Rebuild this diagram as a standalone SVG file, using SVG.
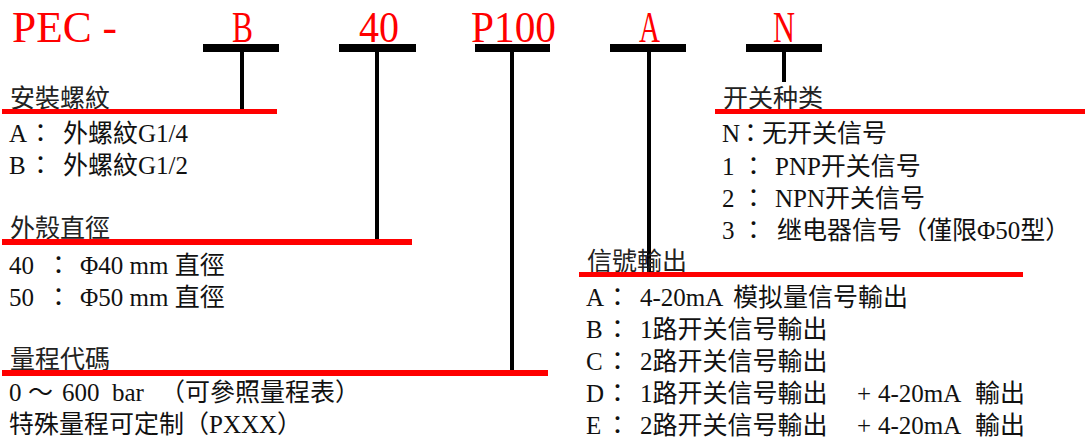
<svg xmlns="http://www.w3.org/2000/svg" width="1085" height="441" viewBox="0 0 1085 441">
<style>
.code{font-family:"Liberation Serif","Noto Sans CJK TC",serif;font-size:44px;fill:#ff0000}
.bar{fill:#000}
.red{fill:#ff0000}
.t{font-family:"Liberation Serif","Noto Sans CJK TC",serif;font-size:25px;fill:#111}
.h{font-family:"Noto Sans CJK TC","Liberation Serif",sans-serif;font-size:25px;fill:#222}
.conn{stroke:#000;stroke-width:4;fill:none}
</style>
<rect width="1085" height="441" fill="#fff"/>
<g id="code-PEC"><text class="code" x="12" y="42" textLength="105" lengthAdjust="spacingAndGlyphs">PEC -</text></g>
<g id="code-B"><text class="code" x="232" y="42" textLength="21" lengthAdjust="spacingAndGlyphs">B</text><rect class="bar" x="203" y="44" width="76" height="8"/></g>
<g id="code-40"><text class="code" x="359" y="42" textLength="40" lengthAdjust="spacingAndGlyphs">40</text><rect class="bar" x="339" y="44" width="77" height="8"/></g>
<g id="code-P100"><text class="code" x="471" y="42" textLength="85" lengthAdjust="spacingAndGlyphs">P100</text><rect class="bar" x="475" y="44" width="75" height="8"/></g>
<g id="code-A"><text class="code" x="639" y="42" textLength="21" lengthAdjust="spacingAndGlyphs">A</text><rect class="bar" x="610" y="44" width="76" height="8"/></g>
<g id="code-N"><text class="code" x="773" y="42" textLength="22" lengthAdjust="spacingAndGlyphs">N</text><rect class="bar" x="746" y="44" width="76" height="8"/></g>
<g id="connectors">
<line class="conn" x1="242" y1="52" x2="242" y2="110"/>
<line class="conn" x1="377" y1="52" x2="377" y2="240"/>
<line class="conn" x1="512" y1="52" x2="512" y2="371"/>
<line class="conn" x1="649" y1="52" x2="649" y2="273"/>
<line class="conn" x1="784" y1="52" x2="784" y2="82"/>
</g>
<g id="legend-mount">
<text class="h" x="10" y="107">安裝螺紋</text>
<rect class="red" x="2" y="109" width="275" height="5"/>
<text class="t" y="142"><tspan x="9">A</tspan><tspan x="28">：</tspan><tspan x="63">外螺紋G1/4</tspan></text>
<text class="t" y="174"><tspan x="9">B</tspan><tspan x="28">：</tspan><tspan x="63">外螺紋G1/2</tspan></text>
</g>
<g id="legend-diameter">
<text class="h" x="10" y="237">外殼直徑</text>
<rect class="red" x="2" y="239" width="410" height="6"/>
<text class="t" y="274"><tspan x="9">40</tspan><tspan x="46">：</tspan><tspan x="80">Φ40 mm 直徑</tspan></text>
<text class="t" y="306"><tspan x="9">50</tspan><tspan x="46">：</tspan><tspan x="80">Φ50 mm 直徑</tspan></text>
</g>
<g id="legend-range">
<text class="h" x="10" y="368">量程代碼</text>
<rect class="red" x="2" y="370" width="546" height="6"/>
<text class="t" y="401"><tspan x="9">0</tspan><tspan x="28">～</tspan><tspan x="62">600</tspan><tspan x="112">bar</tspan><tspan x="160">（可參照量程表）</tspan></text>
<text class="t" y="433"><tspan x="9">特殊量程可定制（PXXX）</tspan></text>
</g>
<g id="legend-switch">
<text class="h" x="723" y="107">开关种类</text>
<rect class="red" x="715" y="109" width="370" height="5"/>
<text class="t" y="142"><tspan x="722">N</tspan><tspan x="738">：</tspan><tspan x="762">无开关信号</tspan></text>
<text class="t" y="175"><tspan x="722">1</tspan><tspan x="741">：</tspan><tspan x="775">PNP开关信号</tspan></text>
<text class="t" y="207"><tspan x="722">2</tspan><tspan x="741">：</tspan><tspan x="775">NPN开关信号</tspan></text>
<text class="t" y="239"><tspan x="722">3</tspan><tspan x="741">：</tspan><tspan x="777">继电器信号（僅限Φ50型）</tspan></text>
</g>
<g id="legend-output">
<text class="h" x="587" y="270">信號輸出</text>
<rect class="red" x="579" y="272" width="444" height="5"/>
<text class="t" y="306"><tspan x="586">A</tspan><tspan x="605">：</tspan><tspan x="640">4-20mA</tspan><tspan x="733">模拟量信号輸出</tspan></text>
<text class="t" y="338"><tspan x="586">B</tspan><tspan x="605">：</tspan><tspan x="640">1路开关信号輸出</tspan></text>
<text class="t" y="370"><tspan x="586">C</tspan><tspan x="605">：</tspan><tspan x="640">2路开关信号輸出</tspan></text>
<text class="t" y="402"><tspan x="586">D</tspan><tspan x="605">：</tspan><tspan x="640">1路开关信号輸出</tspan><tspan x="857">+</tspan><tspan x="878">4-20mA</tspan><tspan x="975">輸出</tspan></text>
<text class="t" y="434"><tspan x="586">E</tspan><tspan x="605">：</tspan><tspan x="640">2路开关信号輸出</tspan><tspan x="857">+</tspan><tspan x="878">4-20mA</tspan><tspan x="975">輸出</tspan></text>
</g>
</svg>
